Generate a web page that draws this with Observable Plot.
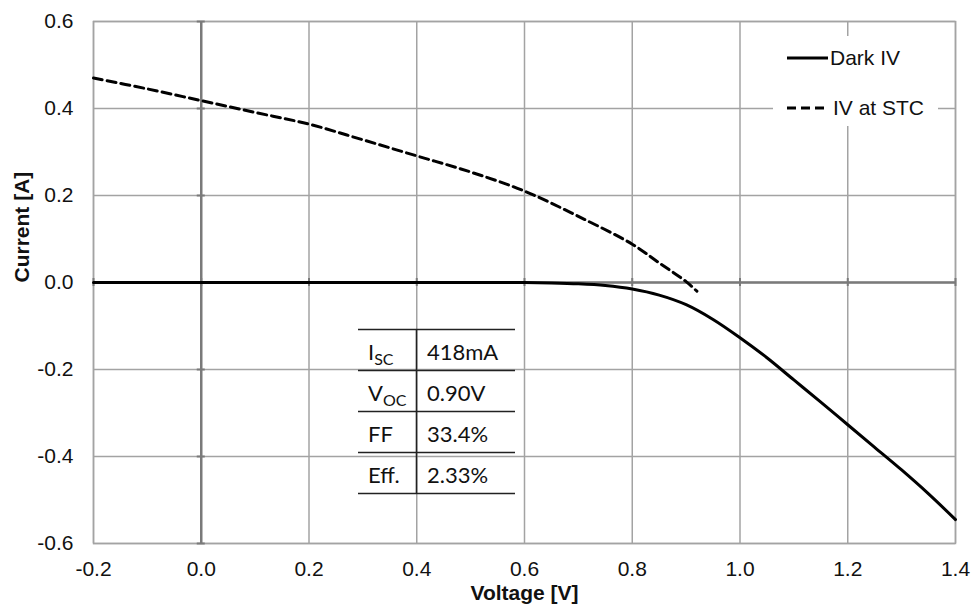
<!DOCTYPE html>
<html><head><meta charset="utf-8">
<script src="https://cdn.jsdelivr.net/npm/d3@7"></script>
<script src="https://cdn.jsdelivr.net/npm/@observablehq/plot@0.6"></script>
<style>body{margin:0;background:#fff}#chart svg{display:block}</style>
</head><body><div id="chart"></div>
<script>
const xTicks = [-0.2, 0.0, 0.2, 0.4, 0.6, 0.8, 1.0, 1.2, 1.4];
const yTicks = [-0.6, -0.4, -0.2, 0.0, 0.2, 0.4, 0.6];
const xTitle = "Voltage [V]";
const yTitle = "Current [A]";
const seriesNames = ["Dark IV", "IV at STC"];

const stcVoltage = [-0.2, -0.1, 0.0, 0.1, 0.2, 0.3, 0.4, 0.5, 0.6, 0.7, 0.8, 0.85, 0.9, 0.92];
const stcCurrent = [0.470, 0.445, 0.418, 0.391, 0.364, 0.328, 0.291, 0.254, 0.210, 0.152, 0.088, 0.045, 0.002, -0.020];

const darkVoltage = [-0.2, 0.0, 0.2, 0.4, 0.6, 0.65, 0.7, 0.75, 0.8, 0.85, 0.9, 0.95, 1.0, 1.05, 1.1, 1.15, 1.2, 1.25, 1.3, 1.35, 1.4];
const darkCurrent = [0, 0, 0, 0, 0, -0.001, -0.003, -0.007, -0.015, -0.029, -0.051, -0.085, -0.127, -0.173, -0.224, -0.275, -0.327, -0.379, -0.431, -0.486, -0.545];

const tableLabels = [["I", "SC"], ["V", "OC"], ["FF", ""], ["Eff.", ""]];
const tableValues = ["418mA", "0.90V", "33.4%", "2.33%"];

const stc = stcVoltage.map((v, i) => ({v, i: stcCurrent[i]}));
const dark = darkVoltage.map((v, i) => ({v, i: darkCurrent[i]}));
const fmt = d => d.toFixed(1);
const gridColor = "#a3a3a3";
const axisColor = "#7a7a7a";

const plot = Plot.plot({
  width: 973, height: 608,
  marginLeft: 93, marginRight: 18, marginTop: 21, marginBottom: 65,
  style: {fontFamily: "'Liberation Sans', Arial, sans-serif", fontSize: "21px", color: "#111", background: "#fff"},
  x: {domain: [-0.2, 1.4]},
  y: {domain: [-0.6, 0.6]},
  marks: [
    Plot.gridX(xTicks, {stroke: gridColor, strokeOpacity: 1, strokeWidth: 1.5}),
    Plot.gridY(yTicks, {stroke: gridColor, strokeOpacity: 1, strokeWidth: 1.5}),
    Plot.frame({stroke: gridColor, strokeWidth: 1.5}),
    Plot.ruleX([0], {stroke: axisColor, strokeWidth: 2.5}),
    Plot.ruleY([0], {stroke: axisColor, strokeWidth: 2.5}),
    Plot.ruleY(yTicks, {x1: 0, x2: 0, insetLeft: -4, insetRight: -4, stroke: axisColor, strokeWidth: 2}),
    Plot.ruleX(xTicks, {y1: 0, y2: 0, insetTop: -4, insetBottom: -4, stroke: axisColor, strokeWidth: 2}),
    Plot.axisX(xTicks, {tickSize: 0, tickPadding: 18, tickFormat: fmt, fontSize: 21, label: null}),
    Plot.axisY(yTicks, {tickSize: 0, tickPadding: 20, tickFormat: fmt, fontSize: 21, label: null}),
    Plot.text([xTitle], {text: d => d, frameAnchor: "bottom", dy: 56, fontWeight: "bold", fontSize: 21}),
    Plot.text([yTitle], {text: d => d, frameAnchor: "left", dx: -71, rotate: -90, fontWeight: "bold", fontSize: 21}),
    Plot.line(dark, {x: "v", y: "i", stroke: "#000", strokeWidth: 3, curve: "catmull-rom"}),
    Plot.line(stc, {x: "v", y: "i", stroke: "#000", strokeWidth: 3, strokeDasharray: "9,5", curve: "catmull-rom"})
  ]
});
document.getElementById("chart").appendChild(plot);

const svg = d3.select(plot);

// inset table
const tg = svg.append("g").attr("font-family", "Lato, 'Open Sans', sans-serif").attr("fill", "#111").attr("text-anchor", "start");
const tLeft = 358, tRight = 515, tDiv = 416.5, tTop = 329.5, rowH = 41;
for (let r = 0; r <= tableValues.length; r++) {
  tg.append("line").attr("x1", tLeft).attr("x2", tRight)
    .attr("y1", tTop + r * rowH).attr("y2", tTop + r * rowH)
    .attr("stroke", "#222").attr("stroke-width", 1.6);
}
tg.append("line").attr("x1", tDiv).attr("x2", tDiv).attr("y1", tTop).attr("y2", tTop + tableValues.length * rowH)
  .attr("stroke", "#222").attr("stroke-width", 1.6);
tableValues.forEach((val, r) => {
  const base = tTop + r * rowH + 30;
  const t = tg.append("text").attr("x", 368).attr("y", base).attr("font-size", 22);
  t.append("tspan").text(tableLabels[r][0]);
  if (tableLabels[r][1]) t.append("tspan").attr("font-size", 16).attr("dy", 5).text(tableLabels[r][1]);
  tg.append("text").attr("x", 427).attr("y", base).attr("font-size", 22).text(val);
});

// legend
const lg = svg.append("g").attr("font-family", "'Liberation Sans', Arial, sans-serif").attr("font-size", 21).attr("fill", "#111").attr("text-anchor", "start");
lg.append("rect").attr("x", 773).attr("y", 36).attr("width", 165).attr("height", 90).attr("fill", "#fff");
const ly = [58, 108];
lg.append("line").attr("x1", 787).attr("x2", 828).attr("y1", ly[0]).attr("y2", ly[0]).attr("stroke", "#000").attr("stroke-width", 3);
lg.append("line").attr("x1", 787).attr("x2", 824).attr("y1", ly[1]).attr("y2", ly[1]).attr("stroke", "#000").attr("stroke-width", 3).attr("stroke-dasharray", "9,5");
seriesNames.forEach((n, k) => {
  lg.append("text").attr("x", k === 0 ? 830 : 833).attr("y", ly[k]).attr("dy", "0.35em").text(n);
});
</script>
</body></html>
